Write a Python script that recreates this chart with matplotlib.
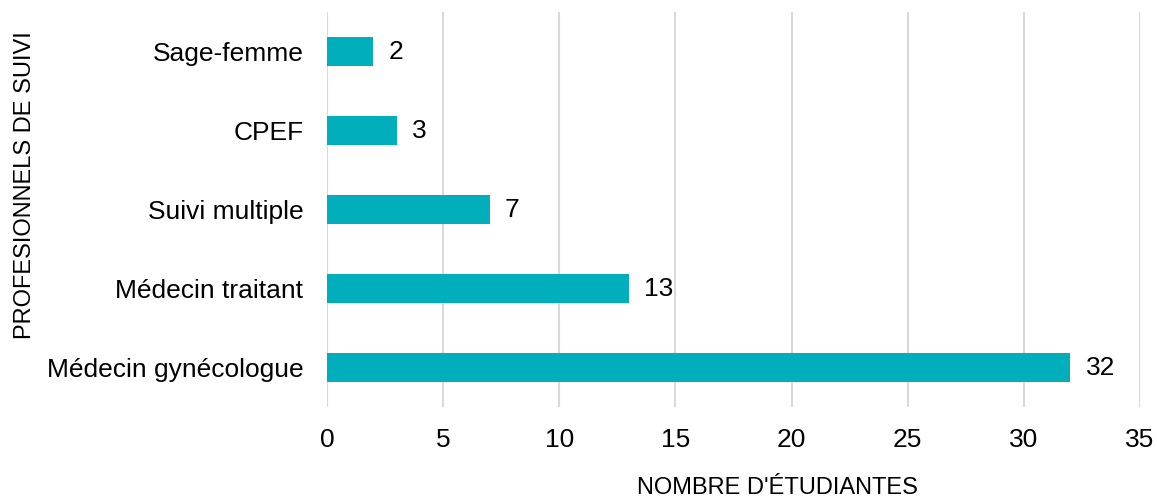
import matplotlib
matplotlib.use("Agg")
import matplotlib.pyplot as plt

plt.rcParams["font.family"] = ["Liberation Sans", "DejaVu Sans"]

categories = ["Médecin gynécologue", "Médecin traitant", "Suivi multiple", "CPEF", "Sage-femme"]
values = [32, 13, 7, 3, 2]
xticks = [0, 5, 10, 15, 20, 25, 30, 35]

BAR_COLOR = "#00AFBB"

fig = plt.figure(figsize=(11.57, 5.01), dpi=100)
ax = fig.add_axes([0.2826, 0.1876, 0.7027, 0.7884])

ax.barh(categories, values, height=0.36, color=BAR_COLOR, zorder=3)
for i, v in enumerate(values):
    ax.annotate(str(v), xy=(v, i), xytext=(11, 0), textcoords="offset points",
                va="center", ha="left", fontsize=19)

ax.set_xlim(0, 35)
ax.set_ylim(-0.5, 4.5)
ax.set_xticks(xticks)
ax.grid(axis="x", color="#d9d9d9", linewidth=1.5, zorder=0)
ax.grid(axis="y", visible=False)
for s in ax.spines.values():
    s.set_visible(False)
ax.tick_params(axis="both", length=0, labelsize=19)
ax.tick_params(axis="x", pad=15)
ax.tick_params(axis="y", pad=17)

fig.text(0.6716, 0.026, "NOMBRE D'ÉTUDIANTES", ha="center", va="center", fontsize=17)
fig.text(0.022, 0.63, "PROFESIONNELS DE SUIVI", ha="center", va="center",
         rotation=90, fontsize=17)

fig.savefig("out.png", dpi=100)
